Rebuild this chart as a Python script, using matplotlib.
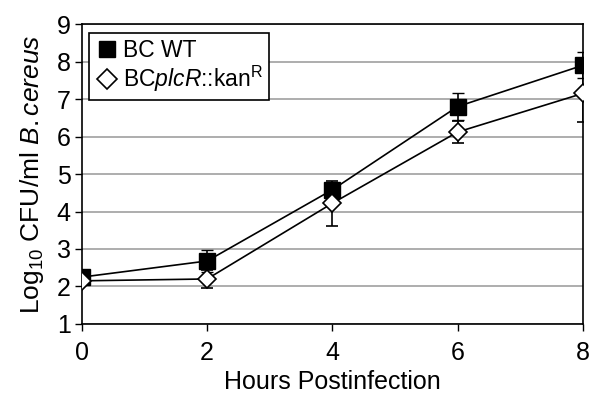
import matplotlib
matplotlib.use("Agg")
import matplotlib.pyplot as plt
from matplotlib.lines import Line2D

plt.rcParams['font.family'] = ['Liberation Sans', 'DejaVu Sans']
plt.rcParams['mathtext.fontset'] = 'custom'
plt.rcParams['mathtext.rm'] = 'Liberation Sans'
plt.rcParams['mathtext.it'] = 'Liberation Sans:italic'

# hours postinfection
hours = [0, 2, 4, 6, 8]

# BC WT
wt_mean = [2.25, 2.68, 4.58, 6.8, 7.9]
wt_err = [0.1, 0.3, 0.15, 0.35, 0.35]

# BC plcR::kanR
mut_mean = [2.15, 2.2, 4.22, 6.12, 7.15]
mut_err = [0.1, 0.25, 0.6, 0.3, 0.75]

labels = ['BC WT', r'BC$\it{plcR}$::kan$^\mathrm{R}$']

fig = plt.figure(figsize=(5.94, 3.96), dpi=100)
ax = fig.add_axes([0.138, 0.182, 0.843, 0.757])

ax.errorbar(hours, wt_mean, yerr=wt_err, color='black', lw=1.2, marker='s',
            markersize=11.5, mfc='black', mec='black', capsize=4, elinewidth=1.2,
            zorder=3)
ax.errorbar(hours, mut_mean, yerr=mut_err, color='black', lw=1.2, marker='D',
            markersize=9.5, mfc='white', mec='black', mew=1.2, capsize=4,
            elinewidth=1.2, zorder=4)

ax.set_xlim(0, 8)
ax.set_ylim(1, 9)
ax.set_xticks(hours)
ax.set_yticks(range(1, 10))
ax.yaxis.grid(True, color='#a0a0a0', lw=1.2)
ax.set_axisbelow(True)
for s in ax.spines.values():
    s.set_color('black')
    s.set_linewidth(1.2)
ax.tick_params(labelsize=18, length=5, width=1, direction='out')
ax.tick_params(axis='x', pad=7)
ax.tick_params(axis='y', pad=3)

ax.set_xlabel('Hours Postinfection', fontsize=18, labelpad=4)
ax.set_ylabel(r'Log$_{10}$ CFU/ml $\it{B. cereus}$', fontsize=19, labelpad=8)

# legend: markers only
handles = [
    Line2D([], [], ls='none', marker='s', markersize=12, mfc='black', mec='black'),
    Line2D([], [], ls='none', marker='D', markersize=10, mfc='white', mec='black', mew=1.2),
]
leg = ax.legend(handles, labels, loc='upper left', bbox_to_anchor=(0.015, 0.97),
                fontsize=16.5, frameon=True, fancybox=False, edgecolor='black',
                borderpad=0.25, handletextpad=0.2, handlelength=1.0,
                labelspacing=0.1, borderaxespad=0)
leg.get_frame().set_linewidth(1.2)
leg.get_frame().set_alpha(1)

fig.savefig('out.png', dpi=100)
